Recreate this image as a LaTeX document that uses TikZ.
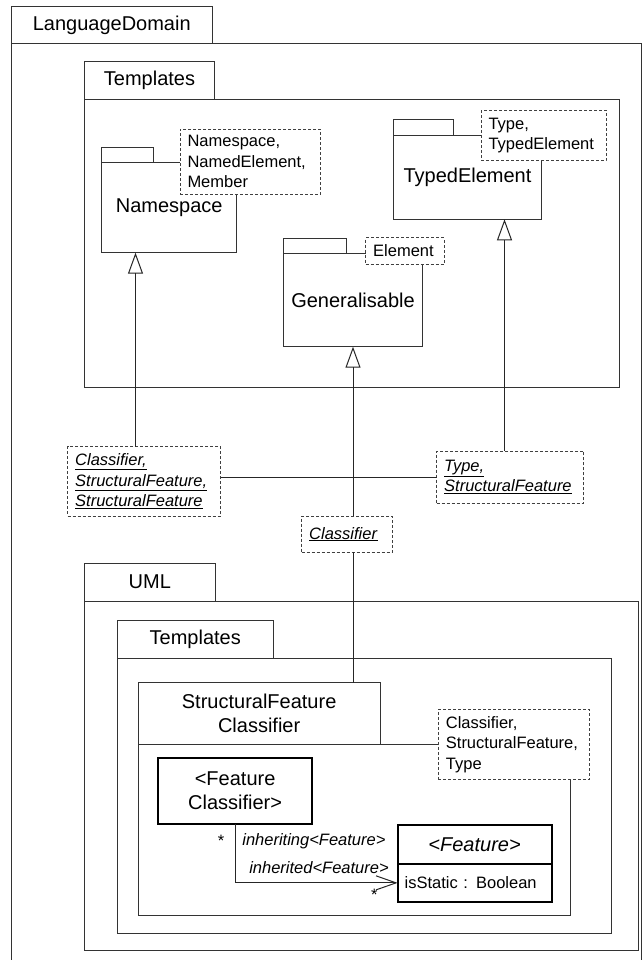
\documentclass[tikz,border=0pt]{standalone}
\usepackage{fontspec}
\setmainfont{Liberation Sans}
\usetikzlibrary{arrows.meta}
\newcommand\lblfont{\fontsize{20}{24}\selectfont}
\newcommand\notefont{\fontsize{16.5}{20.5}\selectfont}
\newcommand\bnd[1]{\underline{\textit{#1}}}

\begin{document}
\begin{tikzpicture}[x=1pt,y=-1pt,line width=1pt,
  pkg/.style={draw=black!80, fill=white, inner sep=0pt, outer sep=0pt,
    anchor=north west, font=\lblfont, align=center},
  cls/.style={draw=black, line width=1.8pt, fill=white, inner sep=0pt,
    outer sep=0pt, anchor=north west, font=\lblfont, align=center},
  note/.style={draw=black!75, dash pattern=on 3pt off 2pt, fill=white,
    inner xsep=7.5pt, inner ysep=0pt, outer sep=0pt, anchor=north west,
    align=left, font=\notefont},
  wire/.style={draw=black!85, line width=1pt},
  gen/.style={wire, -{Triangle[open, length=21pt, width=15pt]}},
  assoc/.style={wire, -{Straight Barb[length=20pt, width=14pt]}},
  lbl/.style={inner sep=0pt, font=\notefont},
]
\useasboundingbox (0,0) rectangle (643,960);

% ---------- LanguageDomain ----------
\node[pkg, minimum width=630, minimum height=930] (ldBody) at (11.5,44) {};
\node[pkg, minimum width=200.5, minimum height=37] (ldTab) at (11.5,7) {LanguageDomain};

% Templates package of the language domain
\node[pkg, minimum width=534.5, minimum height=288] (tBody) at (84.5,99.5) {};
\node[pkg, minimum width=130, minimum height=37.5] (tTab) at (84.5,62) {Templates};

% Namespace template
\node[pkg, minimum width=135, minimum height=90.4] (nsBody) at (101.7,162.3) {Namespace};
\node[pkg, minimum width=51.6, minimum height=15] (nsTab) at (101.7,147.3) {};
\node[note, minimum width=140.7, text width=125.7, minimum height=64.7] (nsNote) at (180,129.3)
  {Namespace,\\NamedElement,\\Member};

% Generalisable template
\node[pkg, minimum width=139.4, minimum height=93.4] (genBody) at (283.3,253.3) {Generalisable};
\node[pkg, minimum width=63.4, minimum height=15] (genTab) at (283.3,238.3) {};
\node[note, minimum width=78.3, text width=63.3, minimum height=26.6] (genNote) at (365.7,237.7)
  {Element};

% TypedElement template
\node[pkg, minimum width=148.4, minimum height=83.6] (teBody) at (393.3,135.7) {TypedElement};
\node[pkg, minimum width=60, minimum height=15.7] (teTab) at (393.3,120) {};
\node[note, minimum width=125, text width=110, minimum height=50.5] (teNote) at (481,110.5)
  {Type,\\TypedElement};

% ---------- UML ----------
\node[pkg, minimum width=553.8, minimum height=349.7] (umlBody) at (84.2,601) {};
\node[pkg, minimum width=131.2, minimum height=37.7] (umlTab) at (84.2,563.3) {UML};

\node[pkg, minimum width=494, minimum height=275.2] (t2Body) at (117.5,658.3) {};
\node[pkg, minimum width=155.5, minimum height=37.6] (t2Tab) at (117.5,620.7) {Templates};

% StructuralFeatureClassifier template
\node[pkg, minimum width=432, minimum height=171] (sfcBody) at (138,744) {};
\node[pkg, minimum width=242.3, minimum height=61.3] (sfcTab) at (138,682.7)
  {StructuralFeature\\Classifier};
\node[note, minimum width=151.2, text width=136.2, minimum height=70] (sfcNote) at (438.4,709.3)
  {Classifier,\\StructuralFeature,\\Type};

% classes inside the template
\node[cls, minimum width=154, minimum height=66.6] (fc) at (158.1,757.7)
  {{\lblfont\baselineskip=25pt <Feature}\\Classifier>};
\node[cls, minimum width=154, minimum height=39] (featTop) at (397.6,825)
  {\textit{<Feature>}};
\node[cls, minimum width=154, minimum height=37.7, align=left, inner xsep=7pt,
  text width=140, font=\notefont] (featBot) at (397.6,864) {isStatic : Boolean};

% ---------- bindings ----------
\coordinate (g1) at (135.5,0);
\coordinate (g3) at (504.5,0);

\node[note, minimum width=153, text width=138, minimum height=69.3] (bnd1) at (67.7,446.7)
  {\bnd{Classifier,}\\\bnd{StructuralFeature,}\\\bnd{StructuralFeature}};
\node[note, minimum width=147, text width=132, minimum height=52.3] (bnd2) at (436.7,451)
  {\bnd{Type,}\\\bnd{StructuralFeature}};
\node[note, minimum width=90.6, text width=75.6, minimum height=36.3] (bnd3) at (301.7,516)
  {\bnd{Classifier}};

\draw[wire] (bnd1.east |- bnd2.west) -- (bnd2.west);
\draw[gen] (g1 |- bnd1.north) -- (g1 |- nsBody.south);
\draw[gen] (g3 |- bnd2.north) -- (g3 |- teBody.south);
\draw[gen] (genBody.south |- bnd3.north) -- (genBody.south);
\draw[wire] (genBody.south |- bnd3.south) -- (genBody.south |- sfcTab.north);

% association between the two classes
\draw[assoc] (fc.south) |- (featBot.west);
\node[lbl] (m1) at (221,841) {*};
\node[lbl, anchor=west] (r1) at (241.9,841) {\textit{inheriting<Feature>}};
\node[lbl, anchor=west] (r2) at (248.8,867.3) {\textit{inherited<Feature>}};
\node[lbl] (m2) at (374.4,895) {*};
\end{tikzpicture}
\end{document}
